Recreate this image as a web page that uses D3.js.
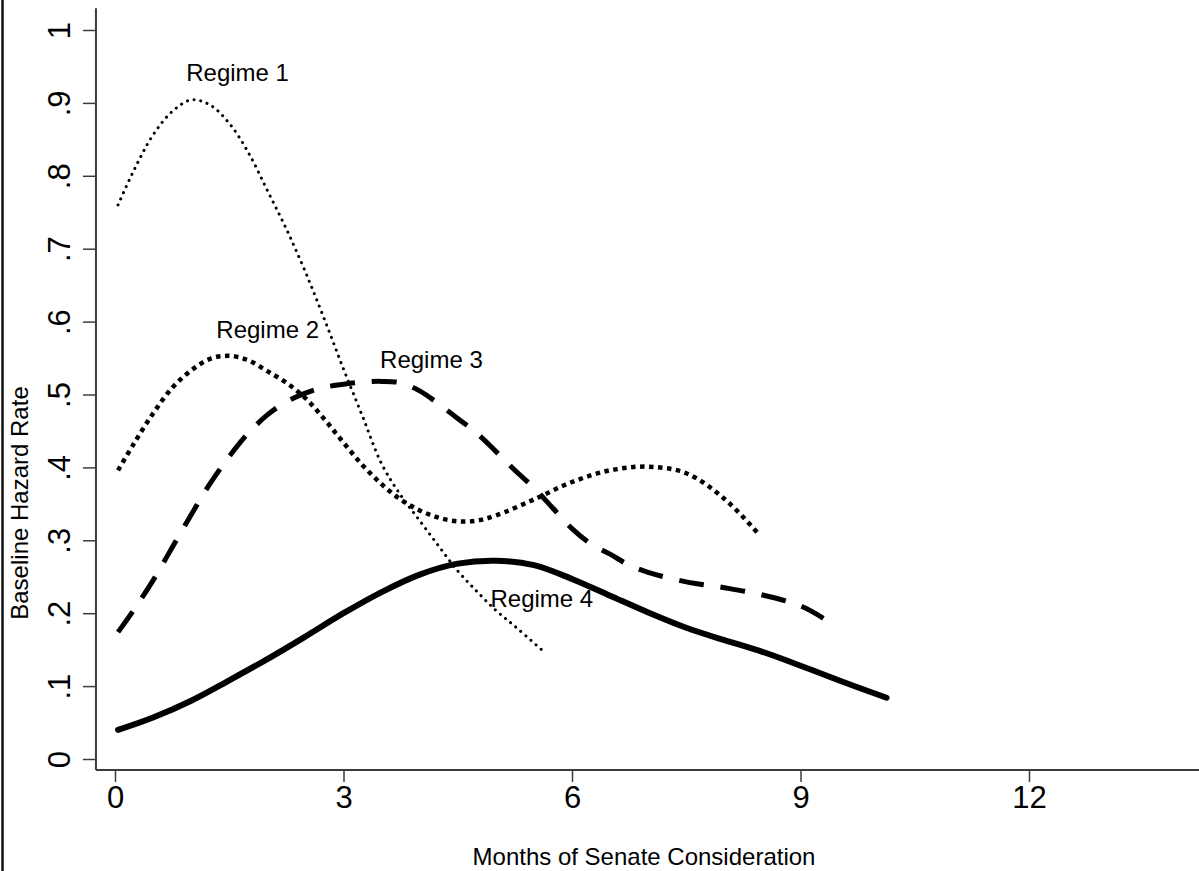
<!DOCTYPE html>
<html>

<head>
    <meta charset="utf-8">
    <title>Baseline hazard by regime</title>
    <script src="https://cdnjs.cloudflare.com/ajax/libs/d3/7.8.5/d3.min.js"></script>
    <style>
        body { margin: 0; background: #fff; }
        svg { display: block; font-family: "Liberation Sans", Arial, sans-serif; }
    </style>
</head>

<body>

    <div id="chart"></div>

    <script type="text/javascript">
        // months of Senate consideration
        var regime1T = [0.04, 0.25, 0.5, 0.75, 1.0, 1.25, 1.5, 1.75, 2.0, 2.25, 2.5, 2.75, 3.0, 3.25, 3.5, 3.75, 4.0, 4.25, 4.5, 4.75, 5.0, 5.25, 5.6];
        var regime1H = [0.760, 0.808, 0.856, 0.888, 0.904, 0.897, 0.872, 0.832, 0.780, 0.727, 0.668, 0.603, 0.535, 0.470, 0.405, 0.362, 0.327, 0.292, 0.258, 0.230, 0.204, 0.182, 0.150];

        var regime2T = [0.04, 0.25, 0.5, 0.75, 1.0, 1.25, 1.5, 1.75, 2.0, 2.25, 2.5, 2.75, 3.0, 3.25, 3.5, 3.75, 4.0, 4.25, 4.5, 4.75, 5.0, 5.5, 6.0, 6.5, 7.0, 7.5, 8.0, 8.43];
        var regime2H = [0.396, 0.433, 0.474, 0.509, 0.533, 0.549, 0.553, 0.547, 0.532, 0.516, 0.495, 0.466, 0.434, 0.403, 0.377, 0.356, 0.341, 0.331, 0.326, 0.327, 0.334, 0.356, 0.380, 0.396, 0.401, 0.392, 0.357, 0.311];

        var regime3T = [0.04, 0.25, 0.5, 0.75, 1.0, 1.25, 1.5, 1.75, 2.0, 2.25, 2.5, 2.75, 3.0, 3.25, 3.5, 3.75, 4.0, 4.25, 4.5, 4.75, 5.0, 5.25, 5.5, 5.75, 6.0, 6.25, 6.5, 6.75, 7.0, 7.5, 8.0, 8.5, 9.0, 9.3];
        var regime3H = [0.174, 0.205, 0.245, 0.290, 0.335, 0.378, 0.415, 0.447, 0.472, 0.490, 0.502, 0.510, 0.514, 0.517, 0.518, 0.516, 0.505, 0.487, 0.467, 0.447, 0.422, 0.396, 0.372, 0.344, 0.316, 0.295, 0.281, 0.266, 0.256, 0.243, 0.235, 0.225, 0.210, 0.193];

        var regime4T = [0.04, 0.5, 1.0, 1.5, 2.0, 2.5, 3.0, 3.5, 4.0, 4.5, 5.0, 5.5, 6.0, 6.5, 7.0, 7.5, 8.0, 8.5, 9.0, 9.5, 10.13];
        var regime4H = [0.040, 0.057, 0.080, 0.108, 0.137, 0.168, 0.200, 0.229, 0.253, 0.268, 0.272, 0.266, 0.247, 0.224, 0.201, 0.180, 0.163, 0.147, 0.128, 0.108, 0.084];

        var regimeNames = ["Regime 1", "Regime 2", "Regime 3", "Regime 4"];

        var xTicks = [0, 3, 6, 9, 12];
        var yTicks = [0, 0.1, 0.2, 0.3, 0.4, 0.5, 0.6, 0.7, 0.8, 0.9, 1];
        var yTickLabels = ["0", ".1", ".2", ".3", ".4", ".5", ".6", ".7", ".8", ".9", "1"];

        var width = 1199,
            height = 871;

        var svg = d3.select("#chart").append("svg")
            .attr("width", width)
            .attr("height", height);

        var x = d3.scaleLinear().domain([0, 12]).range([115, 1029]);
        var y = d3.scaleLinear().domain([0, 1]).range([759, 30]);

        var axisColor = "#3c3c3c",
            xMin = -0.25,   // where the axes meet, in data units
            yMin = -0.015,
            yMax = 1.03;

        /* left border of the graph region */
        svg.append("line")
            .attr("x1", 2.5).attr("x2", 2.5)
            .attr("y1", 0).attr("y2", height)
            .attr("stroke", "#111")
            .attr("stroke-width", 2.5);

        /* y axis */
        var yAxis = svg.append("g")
            .attr("transform", "translate(" + x(xMin) + ",0)")
            .call(d3.axisLeft(y)
                .tickValues(yTicks)
                .tickSize(13)
                .tickPadding(0)
                .tickFormat(function (d, i) { return yTickLabels[i]; }));
        yAxis.select(".domain").remove();
        yAxis.selectAll(".tick line").attr("stroke", axisColor).attr("stroke-width", 1.5);
        yAxis.selectAll(".tick text")
            .attr("transform", "rotate(-90)")
            .attr("x", 0)
            .attr("y", -26)
            .attr("dy", null)
            .attr("text-anchor", "middle")
            .attr("fill", "#000")
            .attr("font-size", 31)
            .attr("font-family", "Liberation Sans, Arial, sans-serif");
        svg.append("line")
            .attr("x1", x(xMin)).attr("x2", x(xMin))
            .attr("y1", y(yMax)).attr("y2", y(yMin))
            .attr("stroke", axisColor)
            .attr("stroke-width", 2);

        /* x axis */
        var xAxis = svg.append("g")
            .attr("transform", "translate(0," + y(yMin) + ")")
            .call(d3.axisBottom(x)
                .tickValues(xTicks)
                .tickSize(12)
                .tickPadding(4)
                .tickFormat(d3.format("d")));
        xAxis.select(".domain").remove();
        xAxis.selectAll(".tick line").attr("stroke", axisColor).attr("stroke-width", 1.5);
        xAxis.selectAll(".tick text")
            .attr("fill", "#000")
            .attr("font-size", 31)
            .attr("font-family", "Liberation Sans, Arial, sans-serif");
        svg.append("line")
            .attr("x1", x(xMin)).attr("x2", width)
            .attr("y1", y(yMin)).attr("y2", y(yMin))
            .attr("stroke", axisColor)
            .attr("stroke-width", 2);

        /* axis titles */
        svg.append("text")
            .attr("x", 644)
            .attr("y", 865)
            .attr("text-anchor", "middle")
            .attr("font-size", 24)
            .text("Months of Senate Consideration");

        svg.append("text")
            .attr("transform", "translate(28,503) rotate(-90)")
            .attr("text-anchor", "middle")
            .attr("font-size", 24)
            .text("Baseline Hazard Rate");

        /* the four curves */
        var series = [
            { t: regime1T, h: regime1H, width: 3, dash: [0.1, 6.6], cap: "round" },
            { t: regime2T, h: regime2H, width: 4.5, dash: [4.5, 4.5], cap: "butt" },
            { t: regime3T, h: regime3H, width: 5, dash: [25, 16], cap: "butt", fit: true },
            { t: regime4T, h: regime4H, width: 6, dash: null, cap: "round" }
        ];

        var line = d3.line()
            .x(function (d) { return x(d[0]); })
            .y(function (d) { return y(d[1]); })
            .curve(d3.curveCatmullRom.alpha(0.5));

        svg.append("g").selectAll("path")
            .data(series)
            .enter()
            .append("path")
            .attr("d", function (s) { return line(d3.zip(s.t, s.h)); })
            .attr("fill", "none")
            .attr("stroke", "#000")
            .attr("stroke-width", function (s) { return s.width; })
            .attr("stroke-dasharray", function (s) { return s.dash ? s.dash.join(" ") : null; })
            .attr("stroke-linecap", function (s) { return s.cap; })
            .attr("stroke-linejoin", "round")
            .each(function (s) {
                // stretch the gaps a little so the dashed line starts and ends on a full dash
                if (!s.fit) return;
                var len = this.getTotalLength(),
                    n = Math.round((len - s.dash[0]) / (s.dash[0] + s.dash[1])),
                    gap = (len - s.dash[0]) / n - s.dash[0];
                d3.select(this).attr("stroke-dasharray", s.dash[0] + " " + gap);
            });

        /* curve labels, placed in data units near each curve */
        var labelPos = [[0.935, 0.93], [1.33, 0.577], [3.48, 0.537], [4.93, 0.209]];

        svg.append("g").selectAll("text")
            .data(regimeNames)
            .enter()
            .append("text")
            .attr("x", function (d, i) { return x(labelPos[i][0]); })
            .attr("y", function (d, i) { return y(labelPos[i][1]); })
            .attr("font-size", 24)
            .text(function (d) { return d; });
    </script>
</body>

</html>
